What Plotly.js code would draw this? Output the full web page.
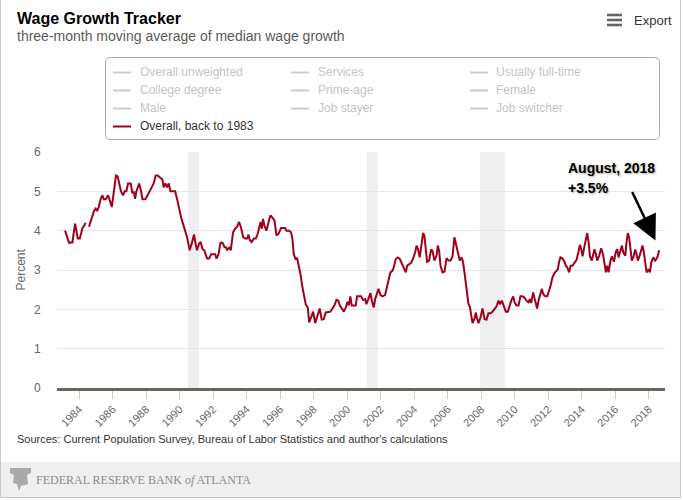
<!DOCTYPE html>
<html>
<head>
<meta charset="utf-8">
<script src="https://cdn.plot.ly/plotly-3.0.1.min.js"></script>
<style>
  html, body { margin: 0; padding: 0; background: #fff; }
  #chart { width: 684px; height: 500px; }
</style>
</head>
<body>
<div id="chart"></div>
<script>
// ---- Data ----
const years = [
1983.16,1983.4,1983.54,1983.6,1983.76,1983.92,1984.04,1984.2,1984.27,1984.39,1984.49,
1984.59,1984.75,1984.89,1984.99,1985.07,1985.17,1985.29,1985.39,1985.47,1985.59,1985.73,1985.83,1985.95,
1986.03,1986.13,1986.2,1986.3,1986.42,1986.5,1986.62,1986.72,1986.82,1986.92,
1987.08,1987.18,1987.26,1987.34,1987.42,1987.58,1987.7,1987.78,1987.96,
1988.1,1988.21,1988.33,1988.45,1988.57,1988.69,1988.81,1988.97,
1989.05,1989.15,1989.25,1989.35,1989.45,1989.61,1989.73,1989.85,1989.97,
1990.03,1990.11,1990.2,1990.32,1990.44,1990.52,1990.6,1990.72,1990.86,1990.96,
1991.04,1991.16,1991.26,1991.35,1991.47,1991.64,1991.76,1991.88,
1992.0,1992.12,1992.2,1992.32,1992.44,1992.56,1992.68,1992.76,1992.84,1992.96,
1993.05,1993.19,1993.31,1993.43,1993.55,1993.67,1993.79,1993.91,
1994.03,1994.11,1994.18,1994.3,1994.43,1994.55,1994.66,1994.74,1994.83,1994.91,1994.98,
1995.06,1995.18,1995.3,1995.42,1995.54,1995.66,1995.78,1995.9,
1996.06,1996.17,1996.29,1996.37,1996.53,1996.65,1996.73,1996.81,1996.93,
1997.01,1997.11,1997.21,1997.33,1997.45,1997.53,1997.65,1997.73,1997.85,1997.97,
1998.09,1998.16,1998.26,1998.36,1998.48,1998.6,1998.72,1998.86,
1999.0,1999.12,1999.24,1999.36,1999.48,1999.56,1999.68,1999.8,1999.92,
2000.02,2000.1,2000.19,2000.27,2000.39,2000.51,2000.59,2000.71,2000.83,2000.95,
2001.07,2001.15,2001.27,2001.39,2001.47,2001.59,2001.67,2001.79,2001.87,2001.99,
2002.11,2002.26,2002.38,2002.46,2002.58,2002.7,2002.78,2002.9,
2003.02,2003.14,2003.26,2003.38,2003.5,2003.58,2003.7,2003.82,2003.94,
2004.06,2004.14,2004.23,2004.33,2004.45,2004.53,2004.61,2004.69,2004.77,2004.89,
2005.01,2005.09,2005.21,2005.33,2005.41,2005.49,2005.57,2005.69,2005.81,2005.93,
2006.05,2006.17,2006.29,2006.4,2006.52,2006.64,2006.72,2006.84,2006.92,
2007.0,2007.08,2007.16,2007.24,2007.32,2007.4,2007.48,2007.6,2007.68,2007.76,2007.84,2007.96,
2008.08,2008.2,2008.32,2008.43,2008.55,2008.67,2008.79,2008.91,
2009.03,2009.11,2009.23,2009.35,2009.47,2009.59,2009.67,2009.79,2009.91,2009.99,
2010.11,2010.23,2010.34,2010.46,2010.58,2010.7,2010.82,2010.9,2010.98,
2011.1,2011.18,2011.26,2011.34,2011.42,2011.54,2011.62,2011.7,2011.82,2011.94,
2012.06,2012.14,2012.25,2012.37,2012.49,2012.57,2012.65,2012.73,2012.85,2012.97,
2013.05,2013.13,2013.25,2013.33,2013.45,2013.57,2013.69,2013.81,2013.89,2013.97,
2014.05,2014.17,2014.25,2014.33,2014.41,2014.49,2014.6,2014.68,2014.76,2014.84,2014.92,
2015.04,2015.16,2015.28,2015.36,2015.44,2015.52,2015.6,2015.72,2015.8,2015.92,
2016.04,2016.12,2016.2,2016.28,2016.4,2016.48,2016.6,2016.67,2016.75,2016.83,2016.91,2016.99,
2017.11,2017.19,2017.27,2017.35,2017.47,2017.55,2017.63,2017.71,2017.79,2017.87,2017.99,
2018.07,2018.15,2018.27,2018.38,2018.46,2018.54,2018.62
];
const wage = [
4.0,3.69,3.7,3.7,4.18,3.8,3.8,4.07,4.1,4.2,null,
4.1,4.35,4.5,4.56,4.5,4.6,4.81,4.9,4.8,4.8,4.9,4.77,4.6,
4.85,5.19,5.4,5.38,5.15,5.0,4.9,5.0,5.0,5.2,
5.2,4.95,5.0,4.81,5.0,5.2,5.0,4.8,4.8,
4.9,5.0,5.1,5.2,5.4,5.4,5.35,5.3,
5.1,5.2,5.1,5.2,5.0,5.0,5.0,4.8,4.56,
4.37,4.3,4.18,4.03,3.84,3.67,3.5,3.67,3.9,3.65,
3.5,3.67,3.71,3.54,3.5,3.29,3.29,3.4,
3.4,3.4,3.29,3.4,3.69,3.69,3.58,3.58,3.5,3.58,
3.5,3.96,4.05,4.1,4.22,4.07,3.84,3.8,
3.8,3.9,3.77,3.71,3.8,3.8,3.92,4.07,4.22,4.05,4.3,
4.13,4.0,4.2,4.39,4.33,4.26,3.88,3.92,
4.07,4.07,4.07,4.0,4.0,3.96,3.8,3.41,3.26,
3.31,3.14,2.9,2.56,2.27,2.12,2.05,1.67,1.8,1.94,
1.65,1.75,1.88,2.02,1.74,1.75,1.92,1.94,
1.94,2.02,2.1,2.24,2.22,2.1,2.0,1.94,2.05,
2.19,2.1,2.33,2.1,2.1,2.1,2.33,2.33,2.33,2.24,
2.26,2.13,2.3,2.41,2.22,2.05,2.26,2.39,2.52,2.36,
2.33,2.36,2.56,2.73,2.94,2.98,3.07,3.28,
3.32,3.28,3.15,3.07,2.94,3.11,3.15,3.18,3.3,
3.45,3.62,3.53,3.32,3.69,3.94,3.87,3.58,3.21,3.24,
3.52,3.49,3.24,3.36,3.62,3.48,3.11,2.94,2.96,3.3,
3.24,3.24,3.35,3.83,3.6,3.32,3.24,3.32,3.19,
2.94,2.69,2.35,2.13,2.07,1.84,1.65,1.77,1.92,1.75,1.65,1.8,
2.02,1.75,1.74,1.9,1.9,1.94,2.02,2.07,
2.22,2.13,2.22,2.05,1.94,1.94,2.07,2.22,2.33,2.18,
2.1,2.1,2.33,2.33,2.3,2.22,2.18,2.26,2.16,
2.43,2.28,2.13,2.02,2.22,2.41,2.52,2.39,2.33,2.33,
2.47,2.6,2.81,2.92,2.98,3.02,3.21,3.32,3.3,3.21,
3.11,3.07,2.94,3.11,3.11,3.18,3.26,3.47,3.64,3.53,
3.35,3.62,3.83,3.94,3.7,3.35,3.24,3.41,3.53,3.41,3.24,
3.36,3.55,3.38,3.19,2.94,3.11,2.94,3.24,3.35,3.21,
3.47,3.53,3.32,3.45,3.62,3.45,3.36,3.69,3.94,3.83,3.53,3.24,
3.36,3.52,3.41,3.24,3.38,3.53,3.62,3.45,3.24,2.94,3.02,
2.94,3.19,3.32,3.24,3.28,3.36,3.5
];
const recessionStart = [1990.5, 2001.17, 2007.92];
const recessionEnd   = [1991.17, 2001.83, 2009.42];
const tickYears = [1984,1986,1988,1990,1992,1994,1996,1998,2000,2002,2004,2006,2008,2010,2012,2014,2016,2018];
const tickLabels = tickYears.map(String);
const legendInactive = ['Overall unweighted','Services','Usually full-time',
                        'College degree','Prime-age','Female',
                        'Male','Job stayer','Job switcher'];
const legendActive = 'Overall, back to 1983';
const latestLabel = 'August, 2018';
const latestValue = '+3.5%';
const latestX = 2018.4, latestY = 3.75;

// ---- Layout helpers (pixel -> paper) ----
const W = 684, H = 500;
const M = {l: 57, r: 19, t: 152, b: 112};
const PW = W - M.l - M.r, PH = H - M.t - M.b;
const fx = px => (px - M.l) / PW;
const fy = py => (H - M.b - py) / PH;

function roundRectPath(x0, y0, x1, y1, r) {
  const p = (x, y) => fx(x).toFixed(5) + ',' + fy(y).toFixed(5);
  return 'M' + p(x0 + r, y0) + ' L' + p(x1 - r, y0) + ' Q' + p(x1, y0) + ' ' + p(x1, y0 + r) +
         ' L' + p(x1, y1 - r) + ' Q' + p(x1, y1) + ' ' + p(x1 - r, y1) +
         ' L' + p(x0 + r, y1) + ' Q' + p(x0, y1) + ' ' + p(x0, y1 - r) +
         ' L' + p(x0, y0 + r) + ' Q' + p(x0, y0) + ' ' + p(x0 + r, y0) + ' Z';
}
function paperRect(x0, y0, x1, y1, fill, line, layer) {
  return {type: 'rect', xref: 'paper', yref: 'paper',
          x0: fx(x0), x1: fx(x1), y0: fy(y1), y1: fy(y0),
          fillcolor: fill, line: line || {width: 0}, layer: layer || 'above'};
}

const SANS = 'Liberation Sans, Arial, sans-serif';
const shapes = [];
const annotations = [];

// outer frame + footer band
shapes.push(paperRect(1, 462, 680, 497, '#efefef', {width: 0}, 'below'));
shapes.push(paperRect(0.5, -5, 680.5, 497.5, 'rgba(0,0,0,0)', {color: '#c8c8c8', width: 1}, 'above'));

// recession bands
recessionStart.forEach((s, i) => {
  shapes.push({type: 'rect', xref: 'x', yref: 'paper', x0: s, x1: recessionEnd[i], y0: 0, y1: 1,
               fillcolor: '#efefef', line: {width: 0}, layer: 'below'});
});

// legend box
shapes.push({type: 'path', xref: 'paper', yref: 'paper', path: roundRectPath(105.5, 57.5, 659.5, 139.5, 5),
             line: {color: '#a8a8a8', width: 1}, fillcolor: 'rgba(0,0,0,0)', layer: 'above'});
const colLine = [113, 291, 470], colText = [138, 316, 494];
const rowY = [72.5, 90.5, 108.5, 126.5];
legendInactive.forEach((name, i) => {
  const c = i % 3, r = Math.floor(i / 3);
  shapes.push({type: 'line', xref: 'paper', yref: 'paper', x0: fx(colLine[c]), x1: fx(colLine[c] + 18),
               y0: fy(rowY[r]), y1: fy(rowY[r]), line: {color: '#cccccc', width: 2}});
  annotations.push({xref: 'paper', yref: 'paper', x: fx(colText[c]), y: fy(rowY[r]), xanchor: 'left', yanchor: 'middle',
                    text: name, showarrow: false, font: {family: SANS, size: 12, color: '#c4c4c4'}});
});
shapes.push({type: 'line', xref: 'paper', yref: 'paper', x0: fx(colLine[0]), x1: fx(colLine[0] + 18),
             y0: fy(rowY[3]), y1: fy(rowY[3]), line: {color: '#a0001e', width: 2}});
annotations.push({xref: 'paper', yref: 'paper', x: fx(colText[0]), y: fy(rowY[3]), xanchor: 'left', yanchor: 'middle',
                  text: legendActive, showarrow: false, font: {family: SANS, size: 12, color: '#333333'}});

// export menu icon
[15, 20, 25].forEach(y => shapes.push(paperRect(607, y - 1.3, 622, y + 1.3, '#666666')));
annotations.push({xref: 'paper', yref: 'paper', x: fx(632), y: fy(20.5), xanchor: 'left', yanchor: 'middle',
                  text: 'Export', showarrow: false, font: {family: SANS, size: 13, color: '#333333'}});

// titles
annotations.push({xref: 'paper', yref: 'paper', x: fx(15), y: fy(18.5), xanchor: 'left', yanchor: 'middle',
                  text: '<b>Wage Growth Tracker</b>', showarrow: false, font: {family: SANS, size: 16, color: '#000000'}});
annotations.push({xref: 'paper', yref: 'paper', x: fx(15), y: fy(35.5), xanchor: 'left', yanchor: 'middle',
                  text: 'three-month moving average of median wage growth', showarrow: false,
                  font: {family: SANS, size: 14, color: '#5a5a5a'}});

// source + footer
annotations.push({xref: 'paper', yref: 'paper', x: fx(15), y: fy(439), xanchor: 'left', yanchor: 'middle',
                  text: "Sources: Current Population Survey, Bureau of Labor Statistics and author's calculations",
                  showarrow: false, font: {family: SANS, size: 11, color: '#333333'}});
annotations.push({xref: 'paper', yref: 'paper', x: fx(34), y: fy(479.5), xanchor: 'left', yanchor: 'middle',
                  text: 'FEDERAL RESERVE BANK <i>of</i> ATLANTA', showarrow: false,
                  font: {family: 'Liberation Serif, Times New Roman, serif', size: 12, color: '#8c8c8c'}});
// small logo mark
shapes.push({type: 'path', xref: 'paper', yref: 'paper', fillcolor: '#a9a9a9', line: {width: 0},
  path: 'M' + fx(10) + ',' + fy(468) + ' L' + fx(31) + ',' + fy(468) + ' L' + fx(31) + ',' + fy(473) +
        ' L' + fx(27) + ',' + fy(475) + ' L' + fx(28) + ',' + fy(484) + ' L' + fx(21) + ',' + fy(486) +
        ' L' + fx(19) + ',' + fy(491) + ' L' + fx(17) + ',' + fy(484) + ' L' + fx(13) + ',' + fy(483) +
        ' L' + fx(14) + ',' + fy(475) + ' L' + fx(10) + ',' + fy(473) + ' Z'});

// y-axis title
annotations.push({xref: 'paper', yref: 'paper', x: fx(20.5), y: fy(270), xanchor: 'center', yanchor: 'middle',
                  text: 'Percent', textangle: -90, showarrow: false, font: {family: SANS, size: 12, color: '#666666'}});

// latest-value callout
const calloutFont = {family: SANS, size: 14, color: '#000000', shadow: '1px 1px 2px rgba(0,0,0,0.35)'};
annotations.push({xref: 'paper', yref: 'paper', x: fx(566), y: fy(168), xanchor: 'left', yanchor: 'middle',
                  text: '<b>' + latestLabel + '</b>', showarrow: false, font: calloutFont});
annotations.push({xref: 'paper', yref: 'paper', x: fx(566), y: fy(187.5), xanchor: 'left', yanchor: 'middle',
                  text: '<b>' + latestValue + '</b>', showarrow: false, font: calloutFont});
annotations.push({xref: 'x', yref: 'y', x: latestX, y: latestY, ax: -24, ay: -50, text: '',
                  showarrow: true, arrowhead: 2, arrowsize: 2, arrowwidth: 2.5, arrowcolor: '#000000'});

const trace = {
  x: years, y: wage, type: 'scatter', mode: 'lines', name: legendActive,
  line: {color: '#a0001e', width: 2}, connectgaps: false, hoverinfo: 'x+y'
};

const layout = {
  width: W, height: H, margin: M,
  paper_bgcolor: '#ffffff', plot_bgcolor: 'rgba(0,0,0,0)',
  showlegend: false,
  xaxis: {
    range: [1982.68, 2018.97], tickmode: 'array', tickvals: tickYears, ticktext: tickLabels,
    tickangle: -45, ticks: 'outside', ticklen: 8, tickcolor: '#cccccc', tickwidth: 1,
    tickfont: {family: SANS, size: 11, color: '#666666'},
    showgrid: false, zeroline: false, showline: true, linecolor: '#6b6459', linewidth: 2.5,
    fixedrange: true
  },
  yaxis: {
    range: [0, 6], dtick: 1, tick0: 0, showgrid: true, gridcolor: '#e6e6e6', gridwidth: 1,
    zeroline: false, showline: false, ticks: 'outside', ticklen: 13, tickcolor: 'rgba(0,0,0,0)',
    tickfont: {family: SANS, size: 12, color: '#666666'}, fixedrange: true
  },
  shapes: shapes,
  annotations: annotations
};

Plotly.newPlot('chart', [trace], layout, {displayModeBar: false, staticPlot: true});
</script>
</body>
</html>
